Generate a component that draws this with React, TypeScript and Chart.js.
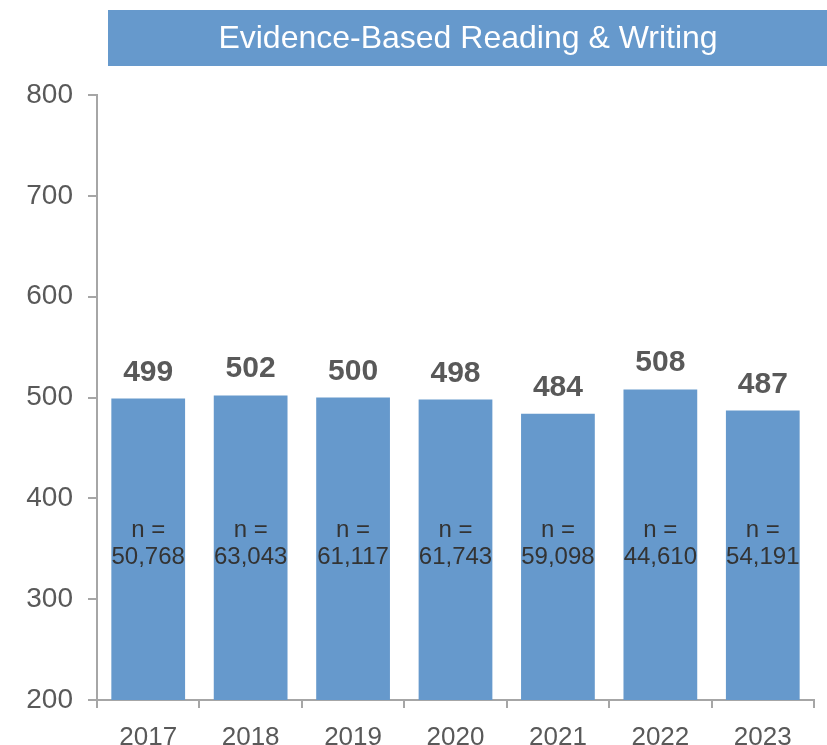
import React, { useEffect, useRef } from "react";
import { Chart, registerables } from "chart.js";

Chart.register(...registerables);

const title = "Evidence-Based Reading & Writing";
const years = ["2017", "2018", "2019", "2020", "2021", "2022", "2023"];
const scores = [499, 502, 500, 498, 484, 508, 487];
const sampleSizes = ["50,768", "63,043", "61,117", "61,743", "59,098", "44,610", "54,191"];
const yTicks = [200, 300, 400, 500, 600, 700, 800];

const BAR = "#6699cc";
const FONT = "'Liberation Sans', Arial, sans-serif";

const titlePlugin = {
  id: "titleBar",
  beforeDraw(chart: any) {
    const { ctx } = chart;
    ctx.save();
    ctx.fillStyle = BAR;
    ctx.fillRect(108, 10, chart.width - 108, 56);
    ctx.fillStyle = "#ffffff";
    ctx.font = `32px ${FONT}`;
    ctx.textAlign = "center";
    ctx.textBaseline = "middle";
    ctx.fillText(title, 468, 39);
    ctx.restore();
  },
};

const labelPlugin = {
  id: "barLabels",
  afterDatasetsDraw(chart: any) {
    const { ctx } = chart;
    const meta = chart.getDatasetMeta(0);
    const yScale = chart.scales.y;
    ctx.save();
    ctx.textAlign = "center";
    meta.data.forEach((bar: any, i: number) => {
      ctx.fillStyle = "#595959";
      ctx.font = `bold 30px ${FONT}`;
      ctx.textBaseline = "alphabetic";
      ctx.fillText(String(scores[i]), bar.x, bar.y - 18);
      ctx.fillStyle = "#333333";
      ctx.font = `24px ${FONT}`;
      ctx.textBaseline = "middle";
      const y1 = yScale.getPixelForValue(368);
      ctx.fillText("n =", bar.x, y1);
      ctx.fillText(sampleSizes[i], bar.x, y1 + 27);
    });
    ctx.restore();
  },
};

export default function App() {
  const ref = useRef<HTMLCanvasElement>(null);
  useEffect(() => {
    document.body.style.margin = "0";
    const chart = new Chart(ref.current!, {
      type: "bar",
      data: {
        labels: years,
        datasets: [
          {
            data: scores,
            backgroundColor: BAR,
            barPercentage: 0.72,
            categoryPercentage: 1,
          },
        ],
      },
      options: {
        animation: false,
        responsive: false,
        layout: { padding: { top: 95, right: 13, left: 0, bottom: 0 } },
        plugins: { legend: { display: false }, tooltip: { enabled: false }, title: { display: false } },
        scales: {
          x: {
            grid: { drawOnChartArea: false, drawTicks: true, tickLength: 8, color: "#a6a6a6", lineWidth: 2, offset: true },
            border: { color: "#a6a6a6", width: 2 },
            ticks: { color: "#595959", font: { size: 26, family: FONT }, padding: 14 },
            afterFit: (s: any) => { s.height = 45; },
          },
          y: {
            min: 200,
            max: 800,
            afterBuildTicks: (s: any) => { s.ticks = yTicks.map((v) => ({ value: v })); },
            grid: { drawOnChartArea: false, drawTicks: true, tickLength: 9, color: "#a6a6a6", lineWidth: 2 },
            border: { color: "#a6a6a6", width: 2 },
            ticks: { color: "#595959", font: { size: 28, family: FONT }, padding: 15 },
            afterFit: (s: any) => { s.width = 97; },
          },
        },
      },
      plugins: [titlePlugin, labelPlugin],
    });
    return () => chart.destroy();
  }, []);
  return (
    <div style={{ position: "absolute", left: 0, top: 0, width: 827, height: 745 }}>
      <canvas ref={ref} width={827} height={745} style={{ width: 827, height: 745 }} />
    </div>
  );
}
